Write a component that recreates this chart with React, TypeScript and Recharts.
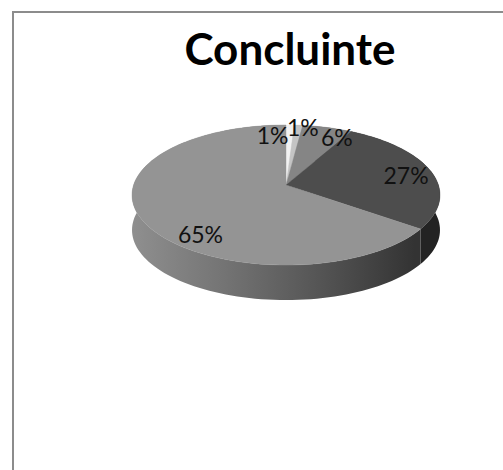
import React from "react";
import { PieChart, Pie } from "recharts";

const categories = ["A", "B", "C", "D", "E"];
const seriesValues = [1, 1, 6, 27, 65];
const title = "Concluinte";

const topColors = ["#f2f2f2", "#c4c4c4", "#858585", "#4d4d4d", "#949494"];
const wallColors = ["#ddd", "#aaa", "#666", "#232323", "url(#wallGrad)"];
const labelOffsets: [number, number][] = [[-17, 2], [6, -6], [15, 2], [4, 2], [17, 25]];
const labelFactors = [0.85, 0.85, 0.85, 0.8, 0.72];

const CX = 286, CY = 185, R = 152.4, Q = 68.6, K = 0.143, DEPTH = 35;
const data = categories.map((name, i) => ({ name, value: seriesValues[i] }));

const project = (deg: number, f = 1): [number, number] => {
  const a = (deg * Math.PI) / 180;
  const d = 1 + K * f * Math.sin(a);
  return [CX + (R * f * Math.cos(a)) / d, CY - (Q * f * Math.sin(a)) / d];
};

const arcPts = (a1: number, a2: number, dy = 0) => {
  const n = Math.max(2, Math.ceil(Math.abs(a2 - a1) / 2));
  const pts: string[] = [];
  for (let i = 0; i <= n; i++) {
    const [x, y] = project(a1 + ((a2 - a1) * i) / n);
    pts.push(`${x.toFixed(2)},${(y + dy).toFixed(2)}`);
  }
  return pts;
};

const TopSlice = (p: any) => {
  const i = categories.indexOf(p.name ?? p.payload?.name);
  const pts = arcPts(p.startAngle, p.endAngle);
  const end = project(p.endAngle);
  return (
    <g>
      <path d={`M${CX},${CY} L${pts.join(" L")} Z`} fill={topColors[i]} stroke={topColors[i]} strokeWidth={0.4} />
      {i === 3 && <line x1={CX} y1={CY + 1} x2={end[0] - 8} y2={end[1] + 1} stroke="#1e1e1e" strokeWidth={2} />}
    </g>
  );
};

const WallSlice = (p: any) => {
  const i = categories.indexOf(p.name ?? p.payload?.name);
  const top = arcPts(p.startAngle, p.endAngle);
  const bottom = arcPts(p.endAngle, p.startAngle, DEPTH);
  return <path d={`M${top.join(" L")} L${bottom.join(" L")} Z`} fill={wallColors[i]} />;
};

const renderLabel = (p: any) => {
  const i = p.index;
  const [x, y] = project(p.midAngle, labelFactors[i]);
  return (
    <text x={x + labelOffsets[i][0]} y={y + labelOffsets[i][1]} textAnchor="middle" dominantBaseline="central"
      fontFamily="Lato" fontSize={23} fill="#111">
      {`${seriesValues[i]}%`}
    </text>
  );
};

export default function App() {
  return (
    <div style={{ position: "absolute", left: 0, top: 0, width: 503, height: 470, background: "#fff" }}>
      <div style={{ position: "absolute", left: 12, top: 11, width: 491, height: 459, borderLeft: "2px solid #8c8c8c", borderTop: "2px solid #8c8c8c", boxSizing: "border-box" }} />
      <div style={{ position: "absolute", left: 0, top: 0 }}>
        <PieChart width={503} height={470} margin={{ top: 0, right: 0, bottom: 0, left: 0 }}>
          <defs>
            <linearGradient id="wallGrad" gradientUnits="userSpaceOnUse" x1="132" y1="0" x2="415" y2="0">
              <stop offset="0" stopColor="#8f8f8f" />
              <stop offset="0.3" stopColor="#767676" />
              <stop offset="0.65" stopColor="#565656" />
              <stop offset="1" stopColor="#333333" />
            </linearGradient>
          </defs>
          <text x={290} y={65} textAnchor="middle" fontFamily="Lato" fontWeight={700} fontSize={44} fill="#000">{title}</text>
          <Pie data={data} dataKey="value" nameKey="name" cx={CX} cy={CY} outerRadius={R} startAngle={90} endAngle={-270}
            paddingAngle={0} stroke="none" shape={WallSlice} isAnimationActive={false} legendType="none" />
          <Pie data={data} dataKey="value" nameKey="name" cx={CX} cy={CY} outerRadius={R} startAngle={90} endAngle={-270}
            paddingAngle={0} stroke="none" shape={TopSlice} label={renderLabel} labelLine={false} isAnimationActive={false} legendType="none" />
        </PieChart>
      </div>
    </div>
  );
}
